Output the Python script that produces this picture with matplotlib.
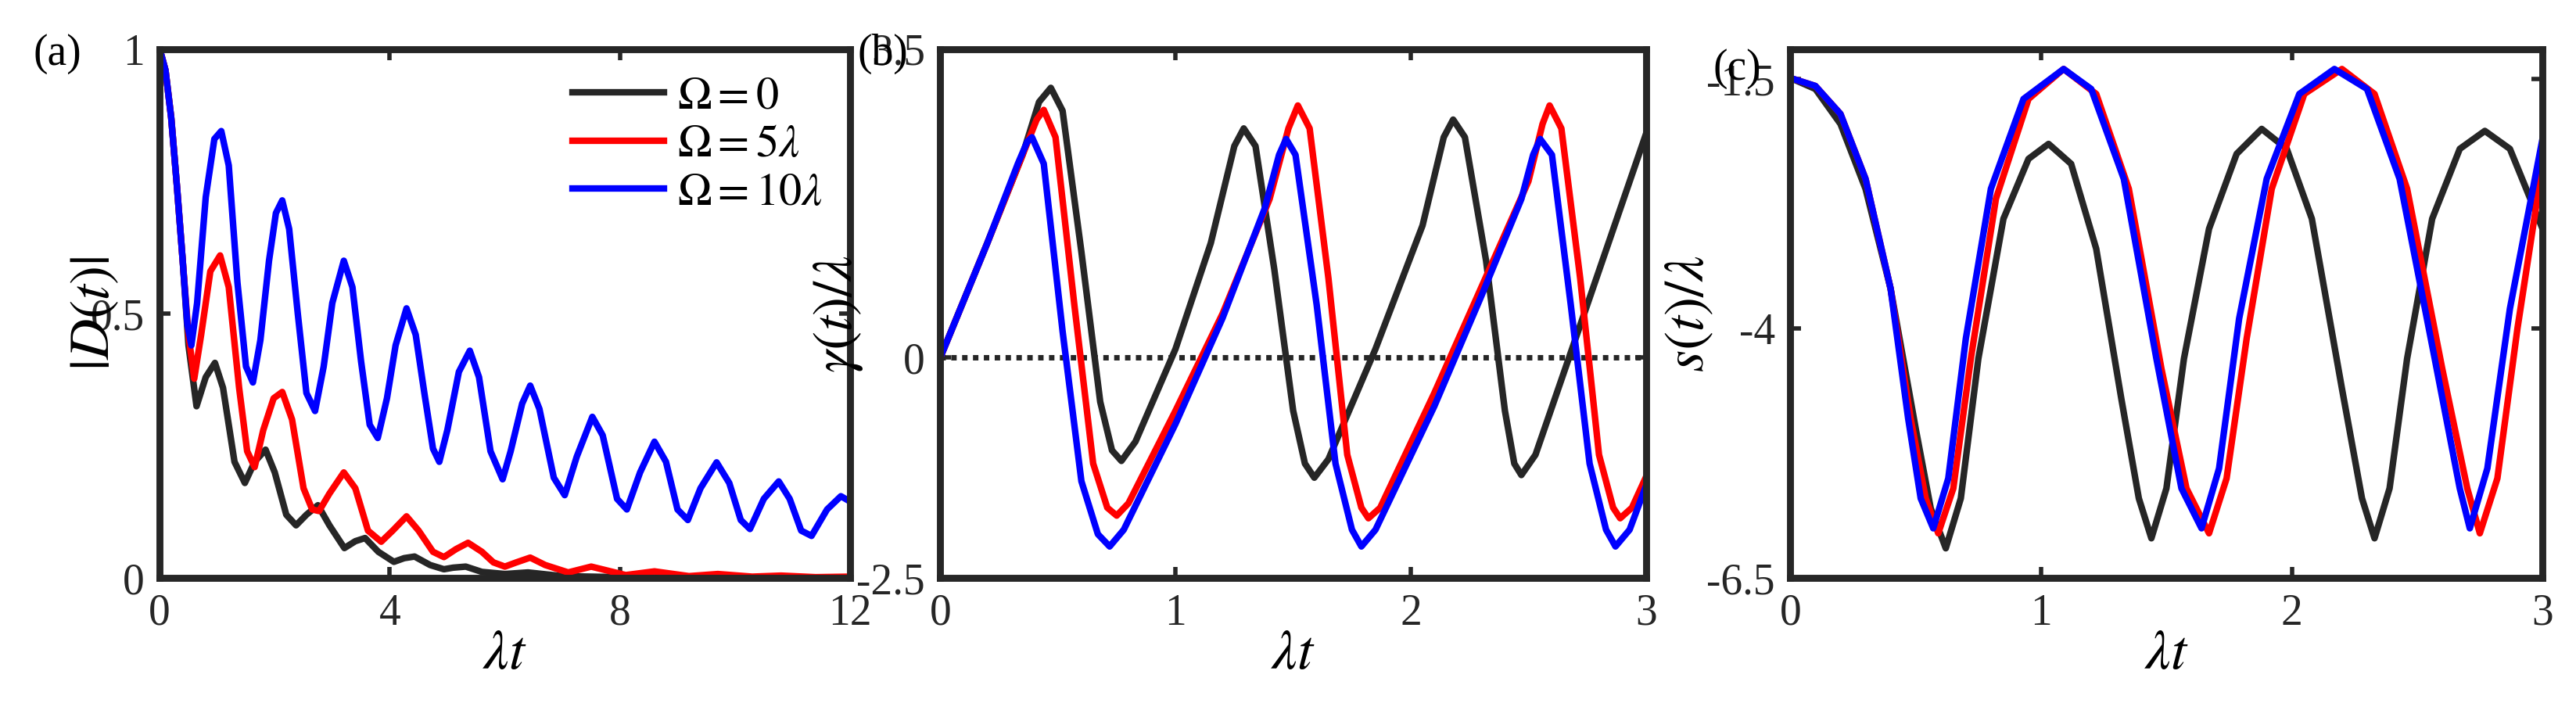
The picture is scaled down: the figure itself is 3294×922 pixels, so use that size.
import matplotlib
matplotlib.use("Agg")
import matplotlib.pyplot as plt

plt.rcParams["font.family"] = ["Liberation Serif", "DejaVu Serif"]
plt.rcParams["mathtext.fontset"] = "stix"

# panel (a): |D(t)|
a_blue_x = [0, 0.1, 0.2, 0.3, 0.4, 0.48, 0.55, 0.65, 0.8, 0.95, 1.07, 1.2, 1.35, 1.5, 1.62, 1.75, 1.9, 2.02, 2.13,
            2.25, 2.4, 2.55, 2.7, 2.85, 3.0, 3.2, 3.35, 3.5, 3.65, 3.79, 3.95, 4.1, 4.29, 4.45, 4.6, 4.75, 4.86,
            5.0, 5.2, 5.39, 5.55, 5.75, 5.96, 6.1, 6.3, 6.44, 6.6, 6.85, 7.04, 7.25, 7.52, 7.7, 7.95, 8.12, 8.35,
            8.6, 8.8, 9.0, 9.18, 9.4, 9.68, 9.9, 10.1, 10.26, 10.5, 10.76, 10.95, 11.15, 11.33, 11.6, 11.84, 12]
a_blue_y = [1.0, 0.96, 0.87, 0.74, 0.6, 0.48, 0.44, 0.52, 0.72, 0.83, 0.845, 0.78, 0.56, 0.40, 0.37, 0.45, 0.6, 0.69,
            0.714, 0.66, 0.5, 0.35, 0.316, 0.40, 0.52, 0.60, 0.55, 0.41, 0.29, 0.265, 0.34, 0.44, 0.51, 0.46, 0.35,
            0.245, 0.22, 0.28, 0.39, 0.43, 0.38, 0.24, 0.187, 0.24, 0.33, 0.364, 0.32, 0.19, 0.157, 0.23, 0.305,
            0.27, 0.15, 0.13, 0.2, 0.258, 0.22, 0.13, 0.11, 0.17, 0.219, 0.18, 0.11, 0.093, 0.15, 0.183, 0.15,
            0.09, 0.08, 0.13, 0.155, 0.145]
a_red_x = [0, 0.1, 0.2, 0.3, 0.4, 0.5, 0.6, 0.72, 0.88, 1.05, 1.2, 1.38, 1.52, 1.65, 1.8, 1.98, 2.13, 2.3, 2.5, 2.65,
           2.77, 2.95, 3.2, 3.4, 3.62, 3.85, 4.05, 4.29, 4.5, 4.75, 4.94, 5.15, 5.36, 5.6, 5.8, 6.0, 6.2, 6.44, 6.7,
           7.1, 7.5, 8.1, 8.6, 9.2, 9.7, 10.3, 10.8, 11.4, 12]
a_red_y = [1.0, 0.96, 0.87, 0.74, 0.6, 0.46, 0.377, 0.46, 0.58, 0.61, 0.55, 0.36, 0.24, 0.21, 0.28, 0.34, 0.352, 0.3,
           0.17, 0.13, 0.127, 0.16, 0.2, 0.17, 0.09, 0.069, 0.09, 0.117, 0.09, 0.05, 0.04, 0.055, 0.067, 0.05, 0.03,
           0.022, 0.03, 0.039, 0.025, 0.011, 0.022, 0.006, 0.013, 0.004, 0.008, 0.003, 0.005, 0.002, 0.003]
a_black_x = [0, 0.1, 0.2, 0.3, 0.4, 0.5, 0.64, 0.8, 0.96, 1.1, 1.3, 1.48, 1.65, 1.84, 2.0, 2.2, 2.37, 2.55, 2.75,
             2.95, 3.21, 3.4, 3.57, 3.8, 4.07, 4.25, 4.43, 4.7, 4.94, 5.1, 5.32, 5.6, 6.0, 6.4, 7.0, 8.0, 9.0, 12]
a_black_y = [1.0, 0.96, 0.87, 0.74, 0.6, 0.44, 0.325, 0.38, 0.407, 0.36, 0.22, 0.18, 0.22, 0.243, 0.2, 0.12, 0.1,
             0.12, 0.138, 0.1, 0.057, 0.07, 0.076, 0.05, 0.031, 0.038, 0.041, 0.025, 0.017, 0.02, 0.022, 0.012, 0.008,
             0.011, 0.004, 0.002, 0.001, 0.0]

# panel (b): gamma(t)/lambda
b_black_x = [0, 0.2, 0.35, 0.42, 0.47, 0.52, 0.6, 0.68, 0.73, 0.77, 0.83, 1.0, 1.15, 1.25, 1.29, 1.34, 1.42, 1.5,
             1.55, 1.59, 1.65, 1.85, 2.05, 2.14, 2.18, 2.23, 2.32, 2.4, 2.44, 2.47, 2.53, 2.75, 3.0]
b_black_y = [0, 1.3, 2.3, 2.9, 3.06, 2.8, 1.2, -0.5, -1.05, -1.17, -0.95, 0.1, 1.3, 2.4, 2.6, 2.4, 1.0, -0.6,
             -1.2, -1.36, -1.15, 0.1, 1.5, 2.5, 2.7, 2.5, 1.1, -0.6, -1.2, -1.33, -1.1, 0.6, 2.54]
b_red_x = [0, 0.2, 0.35, 0.41, 0.44, 0.49, 0.57, 0.65, 0.71, 0.75, 0.8, 1.0, 1.2, 1.4, 1.48, 1.52, 1.57, 1.65,
           1.73, 1.79, 1.82, 1.87, 2.1, 2.3, 2.5, 2.56, 2.59, 2.64, 2.72, 2.8, 2.86, 2.89, 2.94, 3.0]
b_red_y = [0, 1.3, 2.3, 2.7, 2.81, 2.5, 0.6, -1.2, -1.7, -1.79, -1.65, -0.6, 0.5, 1.8, 2.6, 2.86, 2.6, 0.9,
           -1.1, -1.7, -1.82, -1.7, -0.4, 0.8, 2.0, 2.65, 2.86, 2.6, 0.9, -1.1, -1.7, -1.82, -1.7, -1.35]
b_blue_x = [0, 0.2, 0.33, 0.37, 0.39, 0.44, 0.52, 0.6, 0.67, 0.72, 0.78, 1.0, 1.2, 1.38, 1.44, 1.47, 1.51, 1.6,
            1.68, 1.75, 1.79, 1.85, 2.1, 2.3, 2.47, 2.52, 2.55, 2.6, 2.68, 2.76, 2.83, 2.87, 2.93, 3.0]
b_blue_y = [0, 1.3, 2.2, 2.45, 2.5, 2.2, 0.3, -1.4, -2.0, -2.14, -1.95, -0.75, 0.45, 1.7, 2.3, 2.48, 2.3, 0.6,
            -1.2, -1.95, -2.14, -1.95, -0.55, 0.7, 1.8, 2.3, 2.48, 2.3, 0.6, -1.2, -1.95, -2.14, -1.95, -1.45]

# panel (c): s(t)/lambda
c_black_x = [0, 0.1, 0.2, 0.3, 0.4, 0.5, 0.56, 0.62, 0.68, 0.75, 0.85, 0.95, 1.03, 1.12, 1.22, 1.32, 1.39, 1.44,
             1.5, 1.57, 1.67, 1.78, 1.88, 1.98, 2.08, 2.2, 2.28, 2.33, 2.39, 2.46, 2.56, 2.67, 2.77, 2.87, 3.0]
c_black_y = [-1.49, -1.6, -1.95, -2.6, -3.6, -5.0, -5.8, -6.2, -5.7, -4.3, -2.9, -2.3, -2.15, -2.35, -3.2, -4.7,
             -5.7, -6.1, -5.6, -4.3, -3.0, -2.25, -2.0, -2.2, -2.9, -4.6, -5.7, -6.1, -5.6, -4.3, -2.9, -2.2,
             -2.02, -2.2, -3.0]
c_red_x = [0, 0.1, 0.2, 0.3, 0.4, 0.48, 0.54, 0.59, 0.65, 0.72, 0.82, 0.95, 1.09, 1.22, 1.35, 1.48, 1.58, 1.67,
           1.74, 1.82, 1.92, 2.05, 2.2, 2.33, 2.46, 2.6, 2.7, 2.75, 2.82, 2.9, 3.0]
c_red_y = [-1.49, -1.57, -1.85, -2.5, -3.6, -4.9, -5.7, -6.05, -5.6, -4.3, -2.7, -1.7, -1.4, -1.65, -2.6, -4.4,
           -5.6, -6.05, -5.5, -4.1, -2.6, -1.65, -1.4, -1.65, -2.6, -4.4, -5.6, -6.05, -5.5, -4.0, -2.36]
c_blue_x = [0, 0.1, 0.2, 0.3, 0.4, 0.47, 0.52, 0.57, 0.63, 0.7, 0.8, 0.93, 1.09, 1.2, 1.33, 1.46, 1.56, 1.64,
            1.71, 1.79, 1.9, 2.03, 2.17, 2.3, 2.43, 2.57, 2.67, 2.71, 2.78, 2.87, 3.0]
c_blue_y = [-1.49, -1.57, -1.85, -2.5, -3.6, -4.9, -5.7, -6.0, -5.5, -4.1, -2.6, -1.7, -1.4, -1.6, -2.5, -4.3,
            -5.6, -6.0, -5.4, -3.9, -2.5, -1.65, -1.4, -1.6, -2.5, -4.3, -5.6, -6.0, -5.4, -3.8, -2.1]

series_labels = [r"$\Omega=0$", r"$\Omega=5\lambda$", r"$\Omega=10\lambda$"]
colors = ["#262626", "#ff0000", "#0000ff"]

fig = plt.figure(figsize=(16.47, 4.61), dpi=200)
ax_a = fig.add_axes([0.062, 0.198, 0.268, 0.734])
ax_b = fig.add_axes([0.365, 0.198, 0.274, 0.734])
ax_c = fig.add_axes([0.695, 0.198, 0.292, 0.734])

lw = 3.0
for x, y, c, lab in [(a_black_x, a_black_y, colors[0], series_labels[0]),
                     (a_red_x, a_red_y, colors[1], series_labels[1]),
                     (a_blue_x, a_blue_y, colors[2], series_labels[2])]:
    ax_a.plot(x, y, color=c, lw=lw, label=lab, solid_joinstyle="round")
ax_a.set_xlim(0, 12)
ax_a.set_ylim(0, 1)
ax_a.set_xticks([0, 4, 8, 12])
ax_a.set_yticks([0, 0.5, 1])
ax_a.set_yticklabels(["0", "0.5", "1"])
ax_a.set_ylabel(r"$|D(t)|$", fontsize=26, labelpad=-14)
ax_a.legend(loc="upper right", frameon=False, fontsize=21, handlelength=2.0,
            borderaxespad=0.2, labelspacing=0.15, handletextpad=0.3)

ax_b.axhline(0, color="#262626", lw=2.5, ls=(0, (1, 1)))
for x, y, c in [(b_black_x, b_black_y, colors[0]), (b_red_x, b_red_y, colors[1]), (b_blue_x, b_blue_y, colors[2])]:
    ax_b.plot(x, y, color=c, lw=lw, solid_joinstyle="round")
ax_b.set_xlim(0, 3)
ax_b.set_ylim(-2.5, 3.5)
ax_b.set_xticks([0, 1, 2, 3])
ax_b.set_yticks([-2.5, 0, 3.5])
ax_b.set_yticklabels(["-2.5", "0", "3.5"])
ax_b.set_ylabel(r"$\gamma(t)/\lambda$", fontsize=26, labelpad=-4)

for x, y, c in [(c_black_x, c_black_y, colors[0]), (c_red_x, c_red_y, colors[1]), (c_blue_x, c_blue_y, colors[2])]:
    ax_c.plot(x, y, color=c, lw=lw, solid_joinstyle="round")
ax_c.set_xlim(0, 3)
ax_c.set_ylim(-6.5, -1.2)
ax_c.set_xticks([0, 1, 2, 3])
ax_c.set_yticks([-6.5, -4, -1.5])
ax_c.set_yticklabels(["-6.5", "-4", "-1.5"])
ax_c.set_ylabel(r"$s(t)/\lambda$", fontsize=26, labelpad=-4)

for ax in (ax_a, ax_b, ax_c):
    ax.set_xlabel(r"$\lambda t$", fontsize=26, labelpad=-2)
    ax.tick_params(direction="in", top=True, right=True, labelsize=20, width=2, length=5, pad=7, colors="#262626")
    for s in ax.spines.values():
        s.set_linewidth(3.2)
        s.set_color("#262626")

fig.text(0.013, 0.925, "(a)", fontsize=20, va="center")
fig.text(0.333, 0.925, "(b)", fontsize=20, va="center")
fig.text(0.665, 0.905, "(c)", fontsize=20, va="center")

fig.savefig("out.png", dpi=200)
